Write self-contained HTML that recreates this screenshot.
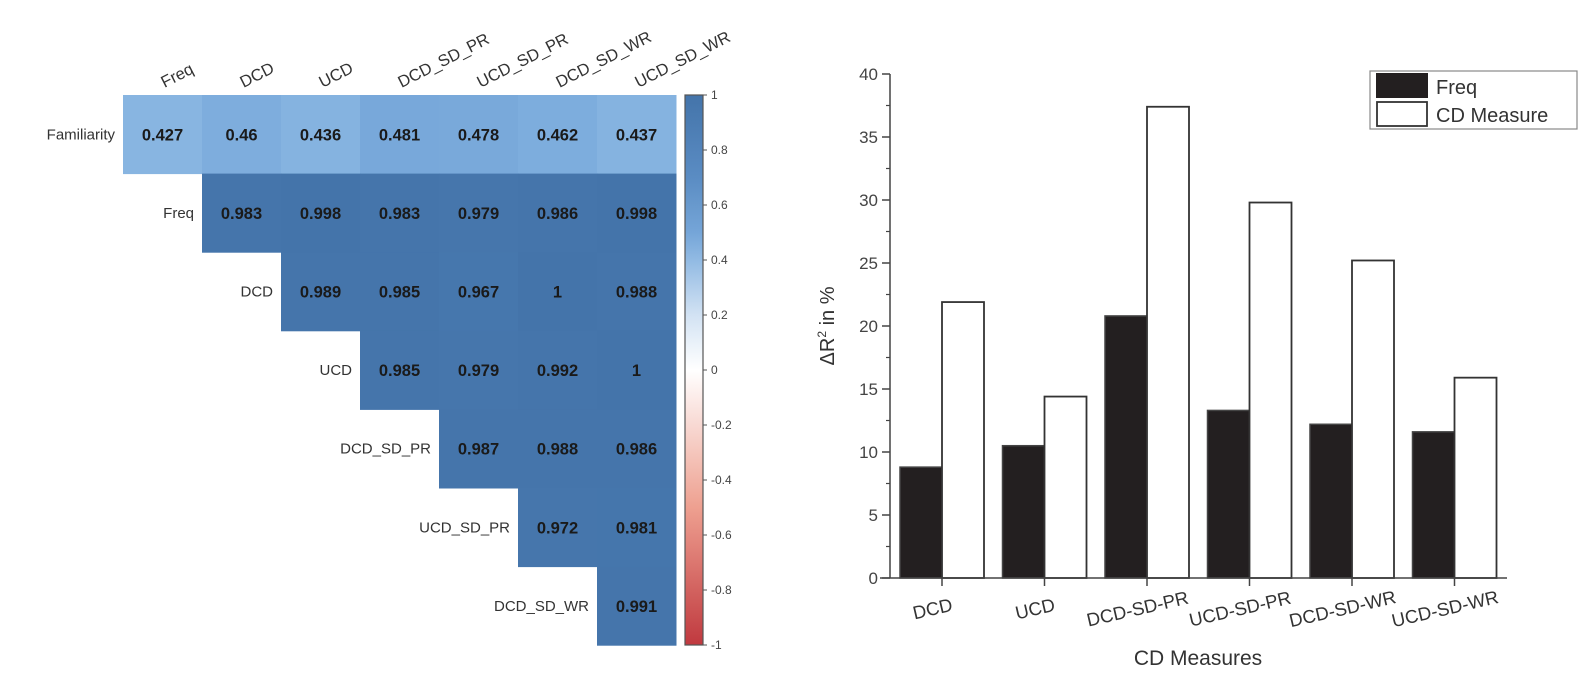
<!DOCTYPE html>
<html><head><meta charset="utf-8"><style>
html,body{margin:0;padding:0;background:#fff;}
svg{display:block;font-family:"Liberation Sans",Arial,sans-serif;}
</style></head><body>
<svg id="root" width="1591" height="685" viewBox="0 0 1591 685">
<g id="heat"></g>
<g id="cbar"></g>
<g id="bars"></g>
</svg>
<script>
const NS="http://www.w3.org/2000/svg";
function mk(parent,tag,attrs,text){const e=document.createElementNS(NS,tag);for(const k in attrs)e.setAttribute(k,attrs[k]);if(text!==undefined)e.textContent=text;parent.appendChild(e);return e;}

// ---------- Heatmap data ----------
const colLabels=["Freq","DCD","UCD","DCD_SD_PR","UCD_SD_PR","DCD_SD_WR","UCD_SD_WR"];
const rowLabels=["Familiarity","Freq","DCD","UCD","DCD_SD_PR","UCD_SD_PR","DCD_SD_WR"];
const rowFamiliarity=[0.427,0.46,0.436,0.481,0.478,0.462,0.437];
const rowFreq=[0.983,0.998,0.983,0.979,0.986,0.998];
const rowDCD=[0.989,0.985,0.967,1,0.988];
const rowUCD=[0.985,0.979,0.992,1];
const rowDCDSDPR=[0.987,0.988,0.986];
const rowUCDSDPR=[0.972,0.981];
const rowDCDSDWR=[0.991];
const heatRows=[rowFamiliarity,rowFreq,rowDCD,rowUCD,rowDCDSDPR,rowUCDSDPR,rowDCDSDWR];
const cbTicks=[1,0.8,0.6,0.4,0.2,0,-0.2,-0.4,-0.6,-0.8,-1];

const hx0=123,hy0=95,cw=79,ch=78.6;
function lerp(a,b,t){return a.map((v,i)=>Math.round(v+(b[i]-v)*t));}
const stops=[[-1,[192,57,63]],[-0.5,[238,160,144]],[0,[255,255,255]],[0.2,[210,226,243]],[0.44,[132,178,224]],[0.48,[120,168,218]],[0.7,[90,140,195]],[1,[68,116,170]]];
function col(v){for(let i=0;i<stops.length-1;i++){const a=stops[i],b=stops[i+1];if(v<=b[0]){const t=(v-a[0])/(b[0]-a[0]);const c=lerp(a[1],b[1],Math.max(0,Math.min(1,t)));return `rgb(${c[0]},${c[1]},${c[2]})`;}}return "rgb(68,116,170)";}
function hx(c){return hx0+c*cw;}
function hy(r){return hy0+r*ch;}
const H=document.getElementById('heat');
heatRows.forEach((vals,r)=>{
  const start=r===0?0:r;
  vals.forEach((v,i)=>{
    const c=start+i;
    const rect=mk(H,'rect',{x:hx(c),y:hy(r),width:cw+0.5,height:ch+0.5,fill:col(v)});
    
    
    const t=mk(H,'text',{x:hx(c)+cw/2,y:hy(r)+ch/2+6,'text-anchor':'middle','font-size':16.5,'font-weight':'bold',fill:'#1a1a1a'},String(v));
    
    
  });
  const lx=hx(start)-8;
  const rl=mk(H,'text',{x:lx,y:hy(r)+ch/2+5,'text-anchor':'end','font-size':15,fill:'#333'},rowLabels[r]);
  
  
});
colLabels.forEach((l,c)=>{
  const x=hx(c)+cw/2+2,y=88;
  const t=mk(H,'text',{x:x,y:y,'font-size':16.5,fill:'#333',transform:`rotate(-27 ${x} ${y})`},l);
  
  
});

// colorbar
const C=document.getElementById('cbar');
const cbx=685,cbw=18,cbTop=95,cbBot=645;
const defs=mk(C,'defs',{});
const lg=mk(defs,'linearGradient',{id:'cbg',x1:0,y1:0,x2:0,y2:1});
for(let i=0;i<=20;i++){const v=1-i/10;mk(lg,'stop',{offset:(i/20),'stop-color':col(v)});}
const cbr=mk(C,'rect',{x:cbx,y:cbTop,width:cbw,height:cbBot-cbTop,fill:'url(#cbg)',stroke:'#555','stroke-width':1.2});


function cby(v){return cbTop+(1-v)/2*(cbBot-cbTop);}
cbTicks.forEach(v=>{
  const y=cby(v);
  mk(C,'line',{x1:cbx+cbw,x2:cbx+cbw+4,y1:y,y2:y,stroke:'#555','stroke-width':1});
  const t=mk(C,'text',{x:cbx+cbw+8,y:y+4,'font-size':12,fill:'#444'},String(v));
  
  
});

// ---------- Bar chart data ----------
const categories=["DCD","UCD","DCD-SD-PR","UCD-SD-PR","DCD-SD-WR","UCD-SD-WR"];
const freqValues=[8.8,10.5,20.8,13.3,12.2,11.6];
const cdValues=[21.9,14.4,37.4,29.8,25.2,15.9];
const yTicks=[0,5,10,15,20,25,30,35,40];

const B=document.getElementById('bars');
const ax=890,axEnd=1507,y0=578,y40=74,gap=102.5,firstC=942,bw=42;
function yS(v){return y0-(v/40)*(y0-y40);}
function xS(i){return firstC+i*gap;}
categories.forEach((c,i)=>{
  const cx=xS(i);
  const b1=mk(B,'rect',{x:cx-bw,y:yS(freqValues[i]),width:bw,height:y0-yS(freqValues[i]),fill:'#231f20',stroke:'#444','stroke-width':1.5});
  
  
  const b2=mk(B,'rect',{x:cx,y:yS(cdValues[i]),width:bw,height:y0-yS(cdValues[i]),fill:'#fff',stroke:'#333','stroke-width':1.8});
  
  
  mk(B,'line',{x1:cx,x2:cx,y1:y0,y2:y0+8,stroke:'#444','stroke-width':1.5});
  const tx=cx-8,ty=y0+37;
  const t=mk(B,'text',{x:tx,y:ty,'text-anchor':'middle','font-size':18.5,fill:'#333',transform:`rotate(-13 ${tx} ${ty})`},c);
  
  
});
mk(B,'line',{x1:ax,x2:ax,y1:y40,y2:y0,stroke:'#444','stroke-width':1.5});
mk(B,'line',{x1:ax-10,x2:axEnd,y1:y0,y2:y0,stroke:'#444','stroke-width':1.5});
yTicks.forEach(v=>{
  const y=yS(v);
  mk(B,'line',{x1:ax-8,x2:ax,y1:y,y2:y,stroke:'#444','stroke-width':1.5});
  if(v<40)mk(B,'line',{x1:ax-4,x2:ax,y1:yS(v+2.5),y2:yS(v+2.5),stroke:'#444','stroke-width':1.2});
  const t=mk(B,'text',{x:ax-12,y:y+6,'text-anchor':'end','font-size':17,fill:'#444'},String(v));
  
  
});
const yt=mk(B,'text',{x:0,y:0,'text-anchor':'middle','font-size':20,fill:'#333',transform:'translate(834 326) rotate(-90)'});


yt.innerHTML='ΔR<tspan dy="-8" font-size="12">2</tspan><tspan dy="8"> in %</tspan>';
const xt=mk(B,'text',{x:1198,y:665,'text-anchor':'middle','font-size':21,fill:'#333'},'CD Measures');



// legend
const L=mk(B,'g',{});


mk(L,'rect',{x:1370,y:71,width:207,height:58,fill:'#fff',stroke:'#888','stroke-width':1.2});
mk(L,'rect',{x:1376,y:73,width:52,height:25,fill:'#231f20'});
mk(L,'rect',{x:1377,y:102,width:50,height:24,fill:'#fff',stroke:'#333','stroke-width':1.8});
const l1=mk(L,'text',{x:1436,y:94,'font-size':20,fill:'#333'},'Freq');


const l2=mk(L,'text',{x:1436,y:122,'font-size':20,fill:'#333'},'CD Measure');


</script>
</body></html>
